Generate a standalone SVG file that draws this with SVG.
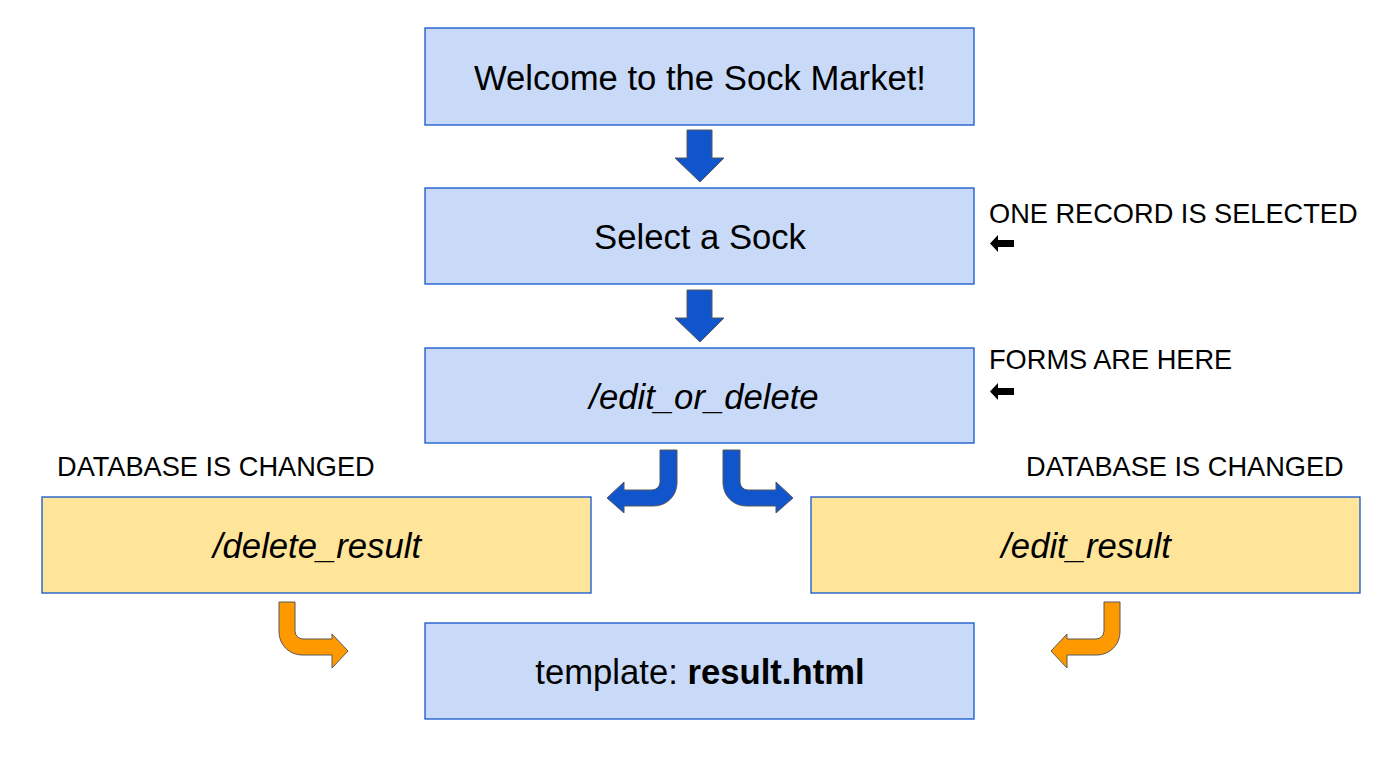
<svg xmlns="http://www.w3.org/2000/svg" width="1400" height="765" viewBox="0 0 1400 765">
<style>
.box{fill:#c9daf8;stroke:#1155cc;stroke-width:1.3}
.ybox{fill:#ffe599;stroke:#1155cc;stroke-width:1.3}
.t{font-family:"Liberation Sans",Arial,sans-serif;font-size:34.67px;fill:#000;text-anchor:middle}
.it{font-style:italic}
.lbl{font-family:"Liberation Sans",Arial,sans-serif;font-size:27.2px;fill:#000}
.blue{fill:#1155cc;stroke:#595959;stroke-width:1}
.orange{fill:#ff9900;stroke:#595959;stroke-width:1}
.black{fill:#000}
</style>
<rect width="1400" height="765" fill="#fff"/>
<g id="welcome"><rect class="box" x="425" y="28" width="549" height="97"/><text class="t" x="700" y="90">Welcome to the Sock Market!</text></g>
<g id="select"><rect class="box" x="425" y="188" width="549" height="96"/><text class="t" x="700" y="249">Select a Sock</text></g>
<g id="edit_or_delete"><rect class="box" x="425" y="348" width="549" height="95"/><text class="t it" x="704" y="409">/edit_or_delete</text></g>
<g id="delete_result"><rect class="ybox" x="42" y="497" width="549" height="96"/><text class="t it" x="317" y="558">/delete_result</text></g>
<g id="edit_result"><rect class="ybox" x="811" y="497" width="549" height="96"/><text class="t it" x="1086" y="558">/edit_result</text></g>
<g id="result"><rect class="box" x="425" y="623" width="549" height="96"/><text class="t" x="700" y="684">template: <tspan font-weight="bold">result.html</tspan></text></g>
<g id="labels">
<text class="lbl" x="989" y="223">ONE RECORD IS SELECTED</text>
<text class="lbl" x="989" y="369">FORMS ARE HERE</text>
<text class="lbl" x="57" y="476">DATABASE IS CHANGED</text>
<text class="lbl" x="1026" y="476">DATABASE IS CHANGED</text>
</g>
<g id="connectors">
<path class="blue" d="M687,130 L712,130 L712,158 L724,158 L700,182 L675,158 L687,158 Z"/>
<path class="blue" d="M687,290 L712,290 L712,318 L724,318 L700,342 L675,318 L687,318 Z"/>
<path class="blue" d="M660,450 L677,450 L677,483 A23,23 0 0 1 654,506 L624,506 L624,513 L607,498 L624,482 L624,490 L652,490 A8,8 0 0 0 660,482 Z"/>
<path class="blue" d="M740,450 L723,450 L723,483 A23,23 0 0 0 746,506 L776,506 L776,513 L793,498 L776,482 L776,490 L748,490 A8,8 0 0 1 740,482 Z"/>
<path class="orange" d="M279,602 L295,602 L295,631 A8,8 0 0 0 303,639 L332,639 L332,634 L348,651 L332,668 L332,655 L302,655 A23,23 0 0 1 279,632 Z"/>
<path class="orange" d="M1120,602 L1104,602 L1104,631 A8,8 0 0 1 1096,639 L1067,639 L1067,634 L1051,651 L1067,668 L1067,655 L1097,655 A23,23 0 0 0 1120,632 Z"/>
<path class="black" d="M990,243.5 L998,235 L998,240 L1014,240 L1014,247 L998,247 L998,252 Z"/>
<path class="black" d="M990,391.5 L998,383 L998,388 L1014,388 L1014,395 L998,395 L998,400 Z"/>
</g>
</svg>
